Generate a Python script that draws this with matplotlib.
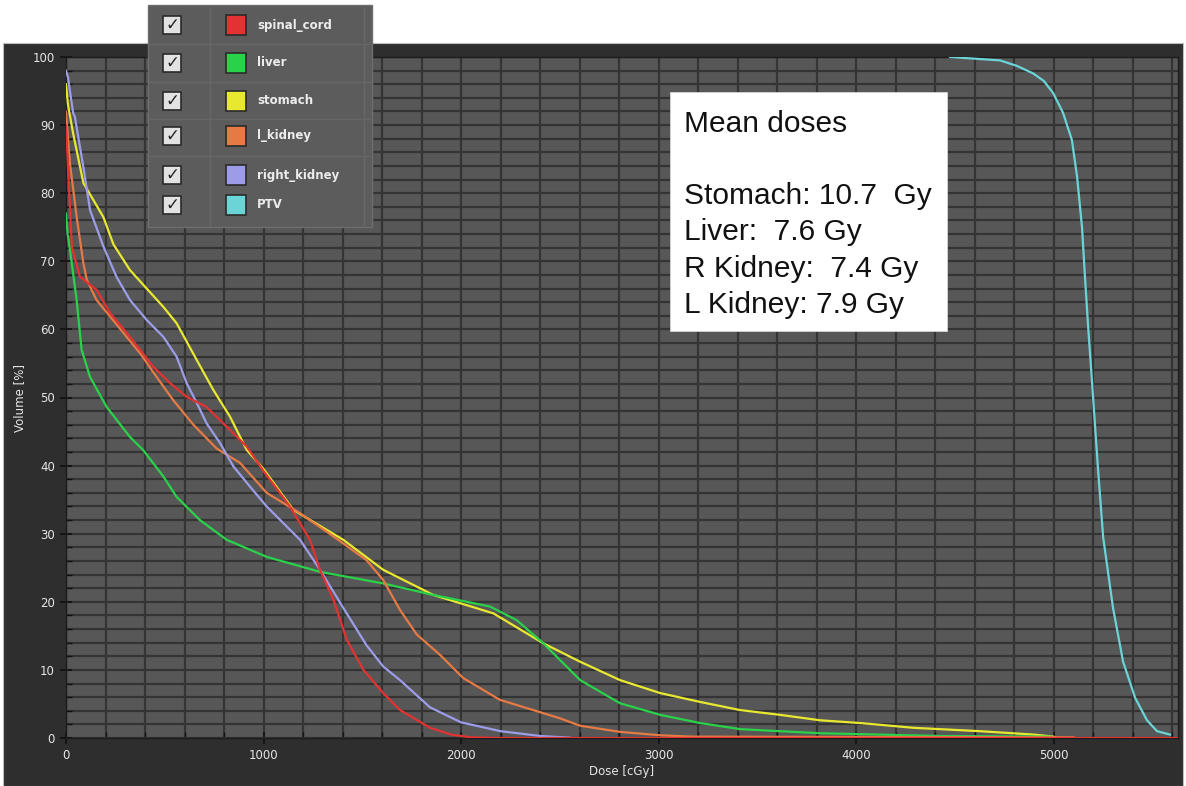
import matplotlib
matplotlib.use("Agg")
import matplotlib.pyplot as plt
from matplotlib.patches import Rectangle
from matplotlib.lines import Line2D
from matplotlib.ticker import MultipleLocator

W, H = 1186, 786

# DVH curves (dose in cGy, volume in %)
cord_dose = [0, 10, 20, 30, 71, 155, 223, 307, 375, 442, 527, 611, 712, 814, 915, 1000,
             1134, 1235, 1286, 1354, 1422, 1506, 1606, 1691, 1843, 1950, 2050, 2200, 5630]
cord_vol = [90, 84, 78, 72, 67.7, 65.8, 62.4, 59.5, 57, 54.5, 52.1, 50.1, 48.6, 45.7, 42.8, 39.2,
            34, 29.1, 24.7, 20.3, 14.4, 10, 6.6, 4.1, 1.5, 0.5, 0.1, 0, 0]

liver_dose = [0, 8, 20, 54, 79, 122, 206, 324, 390, 493, 560, 678, 814, 1016, 1286, 1606, 1860,
              2147, 2282, 2417, 2603, 2805, 3008, 3210, 3413, 3818, 4425, 4990, 5000]
liver_vol = [77, 74, 71.7, 64.3, 57, 53, 48.6, 44.2, 42.3, 38.4, 35.4, 32, 29.1, 26.6, 24.4, 22.7, 21,
             19.3, 17.3, 13.9, 8.5, 5.1, 3.4, 2.2, 1.3, 0.7, 0.3, 0.2, 0]

stomach_dose = [0, 10, 36, 88, 189, 240, 324, 493, 560, 662, 746, 830, 915, 1000, 1151, 1404, 1606,
                1860, 2164, 2417, 2603, 2805, 3008, 3210, 3413, 3615, 3818, 4020, 4290, 4628, 4900,
                5000, 5010]
stomach_vol = [96, 93, 88.8, 81.5, 76.5, 72.5, 68.7, 63.3, 60.9, 55.5, 51.1, 47.2, 42.3, 39.5, 33.5,
               29.1, 24.7, 21, 18.3, 13.9, 11.2, 8.5, 6.6, 5.3, 4.1, 3.4, 2.6, 2.2, 1.5, 1.0, 0.5,
               0.2, 0]

lkid_dose = [0, 10, 20, 54, 88, 105, 155, 223, 307, 375, 459, 543, 645, 763, 881, 1016, 1185, 1354,
             1522, 1606, 1691, 1776, 1894, 2011, 2197, 2500, 2603, 2805, 3008, 3170, 5100, 5110]
lkid_vol = [92, 88, 84.4, 76.5, 69.7, 67.3, 64.3, 61.9, 58.9, 56.5, 53, 49.6, 46, 42.5, 40.4, 36, 33,
            29.6, 26.1, 23.2, 18.8, 15.2, 12.2, 8.8, 5.6, 2.9, 1.8, 0.9, 0.4, 0.2, 0.1, 0]

rkid_dose = [0, 10, 36, 45, 88, 122, 189, 256, 324, 408, 493, 560, 611, 662, 712, 780, 847, 932,
             1016, 1185, 1286, 1404, 1522, 1606, 1691, 1843, 2000, 2200, 2400, 2550, 2560]
rkid_vol = [98, 97, 91.8, 91.2, 83.8, 77.5, 72.2, 67.7, 64.3, 61.4, 58.9, 56, 52.1, 49.2, 46.2, 43.3,
            39.9, 36.9, 34, 29.1, 24.7, 19.1, 13.6, 10.5, 8.5, 4.5, 2.3, 1.0, 0.3, 0.05, 0]

ptv_dose = [4476, 4729, 4814, 4896, 4950, 4998, 5048, 5093, 5119, 5144, 5159, 5175, 5200, 5225,
            5251, 5301, 5352, 5413, 5473, 5524, 5590]
ptv_vol = [100, 99.5, 98.7, 97.6, 96.5, 94.7, 91.8, 87.8, 82.4, 75, 67.7, 60.4, 50.1, 39.5,
           29.5, 19.1, 11.2, 5.9, 2.6, 1.0, 0.5]

names = ["spinal_cord", "liver", "stomach", "l_kidney", "right_kidney", "PTV"]
colors = ["#e23232", "#2ad24a", "#e8e830", "#e67a44", "#9c9ce8", "#6ad4d6"]
doses = [cord_dose, liver_dose, stomach_dose, lkid_dose, rkid_dose, ptv_dose]
vols = [cord_vol, liver_vol, stomach_vol, lkid_vol, rkid_vol, ptv_vol]

mean_text = "Mean doses\n\nStomach: 10.7  Gy\nLiver:  7.6 Gy\nR Kidney:  7.4 Gy\nL Kidney: 7.9 Gy"


def fx(px):
    return px / W


def fy(py):
    return 1 - py / H


fig = plt.figure(figsize=(W / 100, H / 100), dpi=100, facecolor="white")

# dark panel behind the plot
fig.add_artist(Rectangle((fx(3), 0), fx(1180), fy(43), transform=fig.transFigure,
                         facecolor="#2e2e2e", edgecolor="#bdbdbd", lw=0.8, zorder=0))

ax = fig.add_axes([fx(66), fy(738), fx(1178 - 66), (738 - 57) / H])
ax.set_facecolor("#575757")
ax.set_xlim(0, 5630)
ax.set_ylim(0, 100)

ax.xaxis.set_major_locator(MultipleLocator(1000))
ax.xaxis.set_minor_locator(MultipleLocator(200))
ax.yaxis.set_major_locator(MultipleLocator(10))
ax.yaxis.set_minor_locator(MultipleLocator(2))
ax.grid(which="both", color="#343434", lw=1.6)
ax.set_axisbelow(True)

ax.tick_params(which="major", direction="inout", length=9, width=1.2, color="#111111",
               labelcolor="#e6e6e6", labelsize=8.5)
ax.tick_params(which="minor", direction="in", length=4, width=1, color="#111111")
for s in ax.spines.values():
    s.set_color("#1c1c1c")
    s.set_linewidth(1)

ax.set_xlabel("Dose [cGy]", color="#e6e6e6", fontsize=8.5, labelpad=2)
ax.set_ylabel("Volume [%]", color="#e6e6e6", fontsize=8.5, labelpad=5)

order = [5, 2, 1, 3, 4, 0]
for i in order:
    ax.plot(doses[i], vols[i], color=colors[i], lw=1.6, zorder=3 + (i == 0))

# mean dose box
fig.add_artist(Rectangle((fx(670), fy(331)), fx(947 - 670), (331 - 92) / H,
                         transform=fig.transFigure, facecolor="white",
                         edgecolor="#dddddd", lw=0.5, zorder=5))
fig.text(fx(684), fy(110), mean_text, ha="left", va="top", fontsize=21.5,
         family="Liberation Sans", color="#111111", linespacing=1.37, zorder=6)

# legend table
fig.add_artist(Rectangle((fx(148), fy(227)), fx(372 - 148), (227 - 5) / H,
                         transform=fig.transFigure, facecolor="#5c5c5c",
                         edgecolor="#6e6e6e", lw=1, zorder=5))
row_y = [25, 63, 101, 136, 175, 205]
for yy in [44, 82, 119, 156]:
    fig.add_artist(Line2D([fx(150), fx(370)], [fy(yy), fy(yy)], transform=fig.transFigure,
                          color="#676767", lw=1, zorder=6))
for xx in [210, 364]:
    fig.add_artist(Line2D([fx(xx), fx(xx)], [fy(7), fy(225)], transform=fig.transFigure,
                          color="#676767", lw=1, zorder=6))
for name, col, yy in zip(names, colors, row_y):
    fig.add_artist(Rectangle((fx(163), fy(yy + 9)), fx(18), 18 / H, transform=fig.transFigure,
                             facecolor="#e2e2e2", edgecolor="#2a2a2a", lw=1.2, zorder=7))
    fig.text(fx(172), fy(yy), "\u2713", ha="center", va="center", fontsize=12,
             color="#222222", zorder=8)
    fig.add_artist(Rectangle((fx(226), fy(yy + 10)), fx(20), 20 / H, transform=fig.transFigure,
                             facecolor=col, edgecolor="#2a2a2a", lw=1.2, zorder=7))
    fig.text(fx(257), fy(yy), name, ha="left", va="center", fontsize=8.5,
             fontweight="bold", color="#ececec", zorder=8)

fig.savefig("out.png", dpi=100, facecolor=fig.get_facecolor())
